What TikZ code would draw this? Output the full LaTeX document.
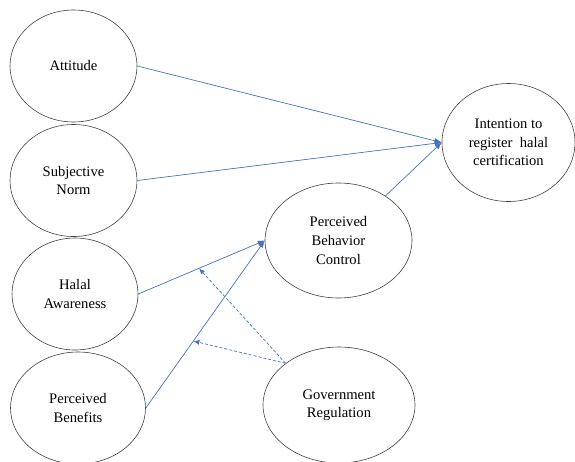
\documentclass[tikz,border=0pt]{standalone}
\usepackage{fontspec}
\setmainfont{Liberation Serif}
\usetikzlibrary{shapes.geometric,arrows.meta,calc}
\definecolor{azul}{RGB}{68,114,196}
\tikzset{
	constructo/.style={ellipse,draw=black!75,line width=0.6pt,inner sep=0pt,
		align=center,font=\fontsize{14.6}{18.5}\selectfont},
	flecha/.style={azul,line width=0.7pt,-{Latex[length=7pt,width=5.5pt]}},
	moderador/.style={azul,line width=0.7pt,dashed,dash pattern=on 3pt off 2pt,-{Latex[length=6pt,width=5pt]}}
}
\begin{document}
\begin{tikzpicture}[x=1pt,y=-1pt]
	\useasboundingbox (0,0) rectangle (575,461);
	% variables independientes
	\foreach \Nombre/\Xc/\Yc/\Ancho/\Texto in
	{att/73.5/66/127/Attitude,
	 sn/73.5/180.5/127/{Subjective\\Norm},
	 ha/75/294/126/{Halal\\Awareness},
	 pb/78/408/135/{Perceived\\Benefits}}
	{
		\node[constructo,minimum width=\Ancho,minimum height=112] 
		(\Nombre) at (\Xc,\Yc) {\Texto};
	}
	\node[constructo,minimum width=133,minimum height=118] 
	(int) at (508.5,142.5) {Intention to\\register\ \ halal\\certification};
	\node[constructo,minimum width=147,minimum height=115] 
	(pbc) at (338.5,240.5) {Perceived\\Behavior\\Control};
	\node[constructo,minimum width=152,minimum height=116] 
	(gr) at (339,405) {Government\\Regulation};
	% relaciones directas
	\draw[flecha] (att.east) -- (int.west);
	\draw[flecha] (sn.east) -- (int.west);
	\draw[flecha] (pbc) -- (int.west);
	\draw[flecha] (ha.east) -- (pbc.west);
	\draw[flecha] (pb.east) -- (pbc.west);
	% moderacion
	\coordinate (m1) at ($(ha.east)!0.48!(pbc.west)$);
	\coordinate (m2) at ($(pb.east)!0.4!(pbc.west)$);
	\draw[moderador] (gr.142) -- (m1);
	\draw[moderador] (gr.142) -- (m2);
\end{tikzpicture}
\end{document}
